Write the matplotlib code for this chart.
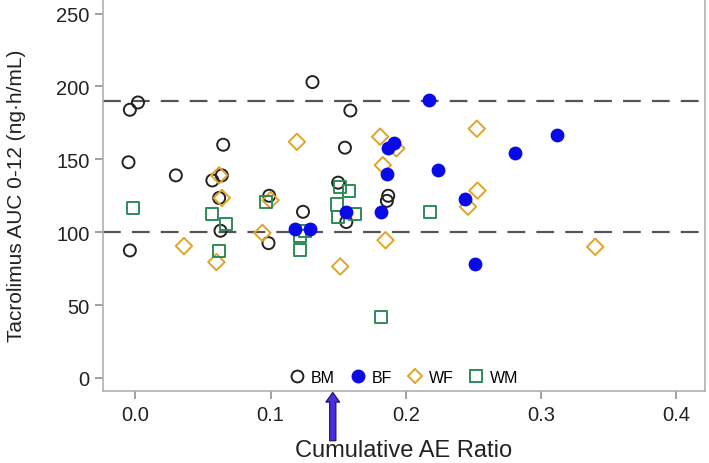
import matplotlib.pyplot as plt
from matplotlib.lines import Line2D

plt.rcParams['font.family'] = ['Liberation Sans', 'DejaVu Sans']

# BM - open black circles
bm_x = [0.002, -0.004, -0.005, 0.030, 0.065, 0.057, 0.064, 0.062, 0.063, -0.004, 0.0985, 0.099,
        0.131, 0.159, 0.155, 0.150, 0.124, 0.187, 0.186, 0.156]
bm_y = [189, 184, 148, 139, 160, 135.5, 139, 123.5, 101, 87.5, 92.5, 125,
        203, 183.5, 158, 134, 114, 125, 121.5, 107]

# BF - filled blue circles
bf_x = [0.2175, 0.187, 0.191, 0.186, 0.224, 0.244, 0.182, 0.156, 0.118, 0.129, 0.251, 0.312, 0.281]
bf_y = [191, 158, 161, 140, 143, 123, 114, 114, 102.5, 102.5, 78.5, 166.5, 154.5]

# WF - open orange diamonds
wf_x = [0.062, 0.064, 0.036, 0.060, 0.094, 0.100, 0.1195, 0.181, 0.193, 0.183,
        0.2525, 0.253, 0.246, 0.185, 0.1515, 0.340]
wf_y = [139, 123.5, 90.5, 79.5, 99.5, 122, 162, 165.5, 157.5, 146,
        171, 128.5, 117.5, 94.5, 76.5, 90]

# WM - open green squares
wm_x = [-0.002, 0.057, 0.067, 0.062, 0.097, 0.1515, 0.158, 0.149, 0.150, 0.1626,
        0.218, 0.122, 0.1256, 0.122, 0.182]
wm_y = [116.5, 112.5, 105.5, 87, 121, 131, 128.5, 119, 110.5, 112.5,
        114, 97.5, 101, 88, 42]

ref_lines = [100, 190]

fig = plt.figure(figsize=(7.09, 4.64), dpi=100)
ax = fig.add_axes([0.145, 0.155, 0.849, 0.845])

for yv in ref_lines:
    ax.axhline(yv, color='#555555', lw=1.6, dashes=(8, 5), zorder=1)

ax.scatter(bm_x, bm_y, s=75, marker='o', facecolors='none', edgecolors='#222222', linewidths=1.4, zorder=3)
ax.scatter(bf_x, bf_y, s=80, marker='o', color='#0a0ae6', zorder=4)
ax.scatter(wf_x, wf_y, s=70, marker='D', facecolors='none', edgecolors='#e3a326', linewidths=1.4, zorder=3)
ax.scatter(wm_x, wm_y, s=75, marker='s', facecolors='none', edgecolors='#2e8b57', linewidths=1.4, zorder=3)

ax.set_xlim(-0.024, 0.421)
ax.set_ylim(-9, 260)
ax.set_xticks([0.0, 0.1, 0.2, 0.3, 0.4])
ax.set_xticklabels(['0.0', '0.1', '0.2', '0.3', '0.4'])
ax.set_yticks([0, 50, 100, 150, 200, 250])

for side in ['left', 'bottom', 'right']:
    ax.spines[side].set_color('#b0b0b0')
    ax.spines[side].set_linewidth(1.2)
ax.spines['top'].set_visible(False)
ax.tick_params(axis='both', colors='#909090', labelcolor='#222222', labelsize=14.5, length=6, width=1.2)
ax.tick_params(axis='x', pad=4)

ax.set_ylabel('Tacrolimus AUC 0-12 (ng·h/mL)', fontsize=15, color='#222222', labelpad=22)
ax.set_xlabel('Cumulative AE Ratio', fontsize=17, color='#222222', labelpad=11)

handles = [
    Line2D([], [], ls='none', marker='o', mfc='none', mec='#222222', mew=1.4, ms=8.5, label='BM'),
    Line2D([], [], ls='none', marker='o', color='#0a0ae6', ms=9, label='BF'),
    Line2D([], [], ls='none', marker='D', mfc='none', mec='#e3a326', mew=1.4, ms=7.5, label='WF'),
    Line2D([], [], ls='none', marker='s', mfc='none', mec='#2e8b57', mew=1.4, ms=8.5, label='WM'),
]
ax.legend(handles=handles, loc='lower center', bbox_to_anchor=(0.5, -0.02), ncol=4, frameon=False,
          fontsize=11.5, handletextpad=0.35, columnspacing=0.95, handlelength=1.0)

# arrow marking the cumulative AE ratio below the axis
ax.annotate('', xy=(0.146, -8), xytext=(0.146, -45), annotation_clip=False,
            arrowprops=dict(arrowstyle='simple,head_width=1.0,head_length=0.7,tail_width=0.45',
                            fc='#4a2fe0', ec='#1a1060', lw=0.8))

fig.savefig('out.png', dpi=100)
